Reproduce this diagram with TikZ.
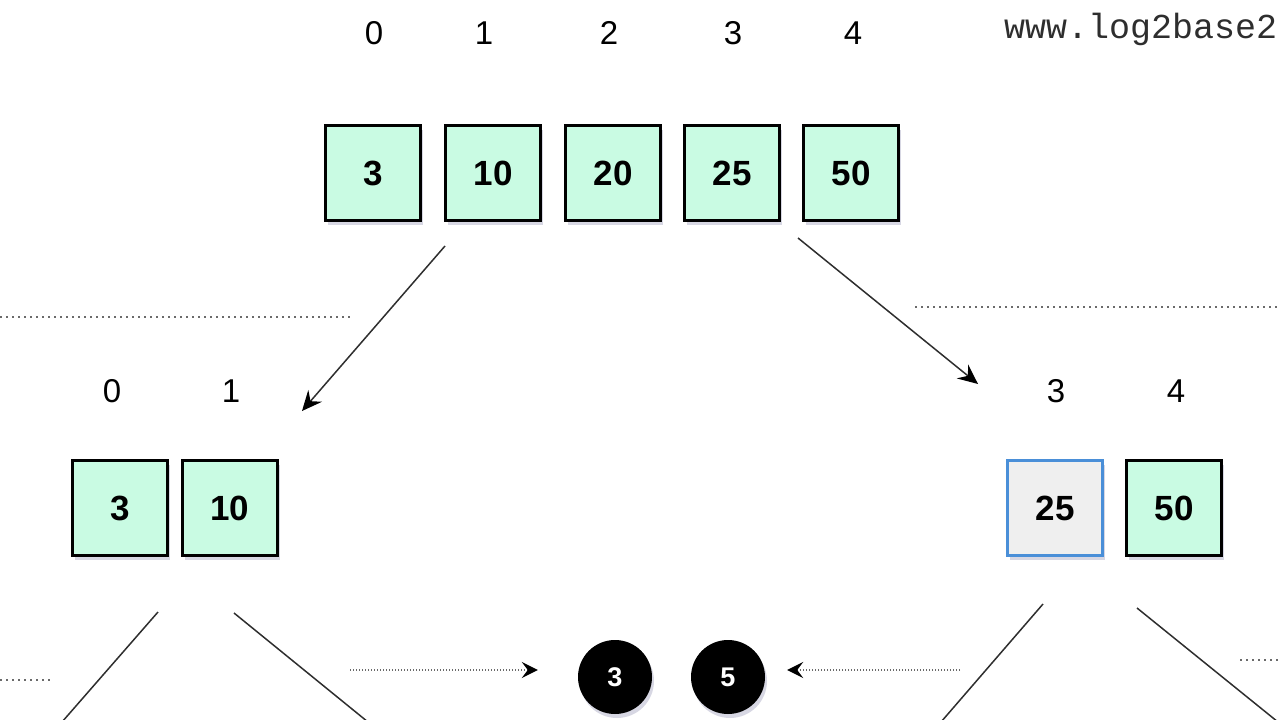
\documentclass[tikz,border=0pt]{standalone}
\usepackage{fontspec}
\setmainfont{Liberation Sans}
\newfontfamily\monofnt{Liberation Mono}
\usetikzlibrary{arrows.meta,shadows}
\definecolor{mint}{HTML}{C9FBE3}
\definecolor{paleg}{HTML}{EFEFEF}
\definecolor{blueb}{HTML}{4A8FD8}
\definecolor{shadowc}{HTML}{9A9AB8}
\definecolor{linec}{HTML}{2E2E2E}
\definecolor{dotc}{HTML}{6A6A6A}
\begin{document}
\begin{tikzpicture}[x=1pt,y=-1pt,
  shd/.style={drop shadow={shadow xshift=2pt,shadow yshift=-4pt,fill=shadowc,opacity=0.4}},
  cell/.style={draw=black,line width=3pt,fill=mint,minimum size=95pt,inner sep=0pt,
    font=\fontsize{35}{40}\selectfont\bfseries,shd},
  pick/.style={cell,draw=blueb,fill=paleg},
  idx/.style={anchor=base,inner sep=0pt,font=\fontsize{33}{40}\selectfont},
  ball/.style={circle,fill=black,minimum size=74pt,inner sep=0pt,text=white,
    font=\fontsize{27}{30}\selectfont\bfseries,shd},
  conn/.style={draw=linec,line width=1.5pt},
  arr/.style={conn,-{Stealth[length=20pt,width=18pt,inset=7pt,black]}},
  sep/.style={draw=dotc,line width=1.6pt,dash pattern=on 1.6pt off 4.4pt},
  darr/.style={draw=dotc,line width=1.6pt,dash pattern=on 1.4pt off 1.6pt,
    -{Stealth[length=16pt,width=16pt,inset=6pt,black]}}
]
\useasboundingbox (0,0) rectangle (1280,720);
\clip (0,0) rectangle (1280,720);

% website
\node[anchor=base west,inner sep=0pt,text=linec,font=\monofnt\fontsize{35}{40}\selectfont] (web) at (1004,38) {www.log2base2};

% top indices
\node[idx] (t0) at (374,44) {0};
\node[idx] (t1) at (484,44) {1};
\node[idx] (t2) at (609,44) {2};
\node[idx] (t3) at (733,44) {3};
\node[idx] (t4) at (853,44) {4};

% top array
\node[cell] (a0) at (373,173) {3};
\node[cell] (a1) at (493,173) {10};
\node[cell] (a2) at (613,173) {20};
\node[cell] (a3) at (732,173) {25};
\node[cell] (a4) at (851,173) {50};

% left sub-array
\node[idx] (l0) at (112,402) {0};
\node[idx] (l1) at (231,402) {1};
\node[cell] (b0) at (120,508) {3};
\node[cell] (b1) at (230,508) {10};

% right sub-array
\node[idx] (r3) at (1056,402) {3};
\node[idx] (r4) at (1176,402) {4};
\node[pick] (c0) at (1055,508) {25};
\node[cell] (c1) at (1174,508) {50};

% result balls
\node[ball] (k0) at (615,677) {3};
\node[ball] (k1) at (728,677) {5};

% coordinates for connector ends
\coordinate (p1s) at (445,246);
\coordinate (p1e) at (302,411);
\coordinate (p2s) at (798,238);
\coordinate (p2e) at (978,384);
\coordinate (q1s) at (158,612);
\coordinate (q1e) at (62,722);
\coordinate (q2s) at (234,613);
\coordinate (q2e) at (368,722);
\coordinate (q3s) at (1043,604);
\coordinate (q3e) at (941,722);
\coordinate (q4s) at (1137,608);
\coordinate (q4e) at (1278,722);
\coordinate (s1a) at (0,317);
\coordinate (s1b) at (350,317);
\coordinate (s2a) at (915,307);
\coordinate (s2b) at (1282,307);
\coordinate (s3a) at (0,680);
\coordinate (s3b) at (50,680);
\coordinate (s4a) at (1240,660);
\coordinate (s4b) at (1282,660);
\coordinate (d1s) at (350,670);
\coordinate (d2s) at (960,670);
\coordinate (d1e) at ([xshift=-40pt]k0.west);
\coordinate (d2e) at ([xshift=22pt]k1.east);

% dotted separators
\path[sep] (s1a) -- (s1b);
\path[sep] (s2a) -- (s2b);
\path[sep] (s3a) -- (s3b);
\path[sep] (s4a) -- (s4b);

% split arrows
\path[arr] (p1s) -- (p1e);
\path[arr] (p2s) -- (p2e);

% lower branches
\path[conn] (q1s) -- (q1e);
\path[conn] (q2s) -- (q2e);
\path[conn] (q3s) -- (q3e);
\path[conn] (q4s) -- (q4e);

% dotted arrows to balls
\path[darr] (d1s) -- (d1e |- d1s);
\path[darr] (d2s) -- (d2e |- d2s);
\end{tikzpicture}
\end{document}
